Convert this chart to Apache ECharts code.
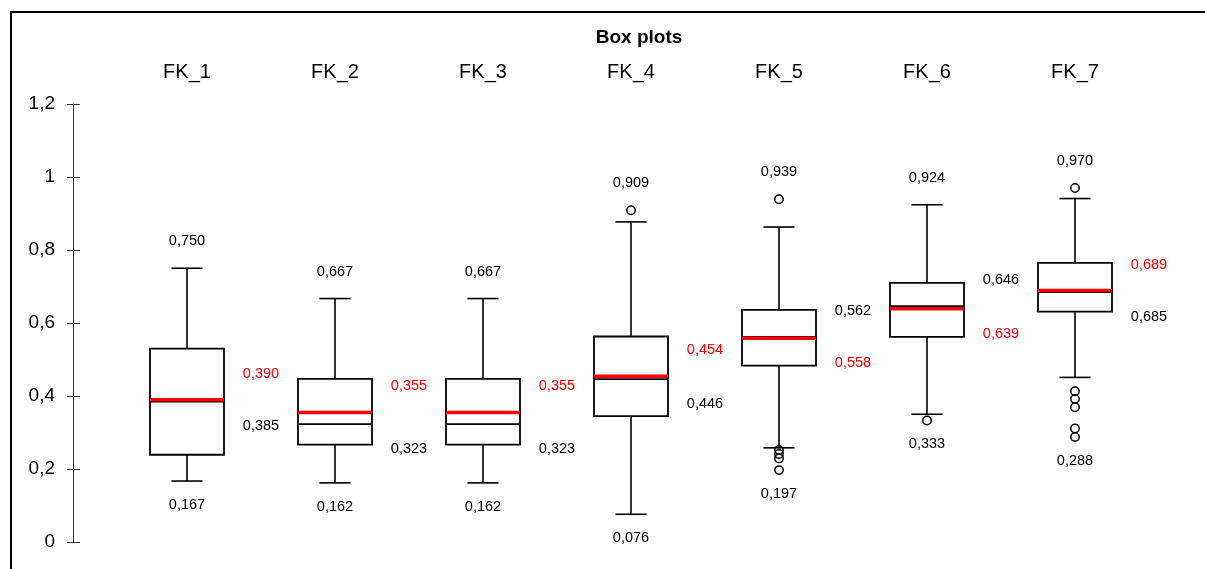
<!DOCTYPE html>
<html>
<head>
<meta charset="utf-8">
<script src="https://cdn.jsdelivr.net/npm/echarts@6/dist/echarts.min.js"></script>
<style>html,body{margin:0;padding:0;background:#fff}#c{width:1205px;height:569px}</style>
</head>
<body>
<div id="c"></div>
<script>
const categories = ['FK_1','FK_2','FK_3','FK_4','FK_5','FK_6','FK_7'];
const whiskerLow  = [0.167, 0.162, 0.162, 0.076, 0.258, 0.350, 0.451];
const q1          = [0.239, 0.267, 0.267, 0.345, 0.483, 0.562, 0.631];
const median      = [0.385, 0.323, 0.323, 0.446, 0.562, 0.646, 0.685];
const q3          = [0.530, 0.447, 0.447, 0.563, 0.636, 0.710, 0.765];
const whiskerHigh = [0.750, 0.667, 0.667, 0.877, 0.863, 0.924, 0.941];
const mean        = [0.390, 0.355, 0.355, 0.454, 0.558, 0.639, 0.689];
const outliers = [
  [],
  [],
  [],
  [0.909],
  [0.939, 0.252, 0.241, 0.229, 0.197],
  [0.333],
  [0.970, 0.413, 0.392, 0.369, 0.311, 0.288]
];
const yTicks = { min: 0, max: 1.2, interval: 0.2 };

const fmt3 = v => v.toFixed(3).replace('.', ',');
const FONT = '"Liberation Sans", Arial, sans-serif';

const data = categories.map((c, i) => [i, whiskerLow[i], q1[i], median[i], q3[i], whiskerHigh[i], mean[i]]);

function renderItem(params, api) {
  const i = params.dataIndex;
  const cx = api.coord([i, 0])[0];
  const y = v => api.coord([i, v])[1];
  const band = api.size([1, 0])[0];
  const boxW = band * 0.5, capW = band * 0.21;
  const lo = api.value(1), b1 = api.value(2), med = api.value(3), b3 = api.value(4), hi = api.value(5), mn = api.value(6);
  const ls = { stroke: '#000', lineWidth: 1.6, fill: null };
  const ch = [];
  ch.push({ type: 'line', shape: { x1: cx, y1: y(b3), x2: cx, y2: y(hi) }, style: ls });
  ch.push({ type: 'line', shape: { x1: cx, y1: y(b1), x2: cx, y2: y(lo) }, style: ls });
  ch.push({ type: 'line', shape: { x1: cx - capW / 2, y1: y(hi), x2: cx + capW / 2, y2: y(hi) }, style: ls });
  ch.push({ type: 'line', shape: { x1: cx - capW / 2, y1: y(lo), x2: cx + capW / 2, y2: y(lo) }, style: ls });
  ch.push({ type: 'rect', shape: { x: cx - boxW / 2, y: y(b3), width: boxW, height: y(b1) - y(b3) }, style: { stroke: '#000', lineWidth: 1.8, fill: '#fff' } });
  ch.push({ type: 'line', shape: { x1: cx - boxW / 2, y1: y(med), x2: cx + boxW / 2, y2: y(med) }, style: { stroke: '#000', lineWidth: 1.8 } });
  ch.push({ type: 'line', shape: { x1: cx - boxW / 2, y1: y(mn), x2: cx + boxW / 2, y2: y(mn) }, style: { stroke: '#ff0000', lineWidth: 3.5 } });
  const outs = outliers[i];
  outs.forEach(o => {
    ch.push({ type: 'circle', shape: { cx: cx, cy: y(o), r: 4.2 }, style: { stroke: '#000', lineWidth: 1.5, fill: null } });
  });
  const maxV = Math.max(hi, ...outs), minV = Math.min(lo, ...outs);
  const txt = (t, x, yy, color) => ({ type: 'text', style: { text: t, x: x, y: yy, align: 'center', verticalAlign: 'middle', fill: color, fontSize: 14.5, fontFamily: FONT } });
  ch.push(txt(fmt3(maxV), cx, y(maxV) - 27, '#000'));
  ch.push(txt(fmt3(minV), cx, y(minV) + 24, '#000'));
  const lx = cx + band / 2;
  const medAbove = med >= mn;
  ch.push(txt(fmt3(med), lx, medAbove ? y(med) - 26 : y(med) + 25, '#000'));
  ch.push(txt(fmt3(mn), lx, medAbove ? y(mn) + 25 : y(mn) - 26, '#ff0000'));
  return { type: 'group', children: ch };
}

const chart = echarts.init(document.getElementById('c'));
chart.setOption({
  animation: false,
  backgroundColor: '#fff',
  title: {
    text: 'Box plots', left: 634, top: 23, textAlign: 'center',
    textStyle: { fontSize: 19, fontWeight: 'bold', color: '#000', fontFamily: FONT }
  },
  grid: { left: 113, right: 56, top: 104, bottom: 27 },
  xAxis: {
    type: 'category', data: categories, position: 'top',
    axisLine: { show: false }, axisTick: { show: false }, splitLine: { show: false },
    axisLabel: { fontSize: 20, color: '#000', fontFamily: FONT, margin: 22 }
  },
  yAxis: [{
    type: 'value', min: yTicks.min, max: yTicks.max, interval: yTicks.interval, position: 'left', offset: 40,
    axisLine: { show: true, lineStyle: { color: '#333', width: 1 } },
    axisTick: { show: true, length: 6, lineStyle: { color: '#333', width: 1 } },
    splitLine: { show: false },
    axisLabel: { fontSize: 19, color: '#000', fontFamily: FONT, margin: 18,
      formatter: v => String(Math.round(v * 10) / 10).replace('.', ',') }
  }, {
    type: 'value', min: yTicks.min, max: yTicks.max, interval: yTicks.interval, position: 'left', offset: 40,
    axisLine: { show: false },
    axisTick: { show: true, inside: true, length: 7, lineStyle: { color: '#333', width: 1 } },
    splitLine: { show: false }, axisLabel: { show: false }
  }],
  graphic: [{
    type: 'rect', shape: { x: 11, y: 12, width: 1400, height: 800 },
    style: { fill: null, stroke: '#000', lineWidth: 2 }, silent: true, z: 100
  }],
  series: [{
    type: 'custom', renderItem: renderItem, data: data,
    encode: { x: 0, y: [1, 2, 3, 4, 5, 6] }, clip: false
  }]
});
</script>
</body>
</html>
